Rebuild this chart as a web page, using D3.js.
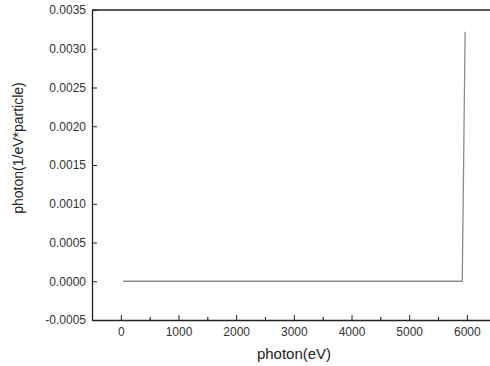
<!DOCTYPE html>
<html>
<head>
<meta charset="utf-8">
<script src="https://cdn.jsdelivr.net/npm/d3@7"></script>
<style>
    body { margin: 0; background: #fff; }
    svg { display: block; font-family: "Liberation Sans", Arial, sans-serif; }
</style>
</head>
<body>
<div id="chart"></div>
<script>
// spectrum points
let energy = [40, 5920, 5970];
let photon = [0, 0, 0.00322];
let xTicks = [0, 1000, 2000, 3000, 4000, 5000, 6000];
let xMinor = [500, 1500, 2500, 3500, 4500, 5500];
let yTicks = [-0.0005, 0, 0.0005, 0.001, 0.0015, 0.002, 0.0025, 0.003, 0.0035];

(function() {
    let w = 490, h = 366;
    let svg = d3.select('#chart')
        .append('svg')
        .attr('width', w)
        .attr('height', h);

    let x = d3.scaleLinear().domain([-500, 6500]).range([92, 495.7]);
    let y = d3.scaleLinear().domain([-0.0005, 0.0035]).range([320, 10]);

    let pts = energy.map((e, i) => [e, photon[i]]);
    let line = d3.line()
        .x(d => x(d[0]))
        .y(d => y(d[1]));

    svg.append('path')
        .datum(pts)
        .attr('d', line)
        .attr('fill', 'none')
        .attr('stroke', '#8c8c8c')
        .attr('stroke-width', 1.3);

    // top frame
    svg.append('line')
        .attr('x1', 92).attr('x2', w)
        .attr('y1', 10).attr('y2', 10)
        .attr('stroke', '#222')
        .attr('stroke-width', 1.3);

    let xAxis = svg.append('g')
        .attr('transform', 'translate(0,320)')
        .call(d3.axisBottom(x).tickValues(xTicks).tickSizeInner(-5).tickSizeOuter(0).tickPadding(7)
            .tickFormat(d3.format('d')));
    svg.append('g')
        .attr('transform', 'translate(0,320)')
        .call(d3.axisBottom(x).tickValues(xMinor).tickSizeInner(-3).tickSizeOuter(0).tickFormat(''))
        .select('.domain').remove();

    let yAxis = svg.append('g')
        .attr('transform', 'translate(92,0)')
        .call(d3.axisLeft(y).tickValues(yTicks).tickSizeInner(-5).tickSizeOuter(0).tickPadding(6)
            .tickFormat(d3.format('.4f')));

    [xAxis, yAxis].forEach(a => {
        a.select('.domain').attr('stroke', '#222').attr('stroke-width', 1.3);
        a.selectAll('.tick line').attr('stroke', '#222');
        a.selectAll('text')
            .attr('fill', '#333')
            .style('font-size', '12px');
    });
    yAxis.selectAll('text').text(d => d < 0 ? '-' + d3.format('.4f')(-d) : d3.format('.4f')(d));

    svg.append('text')
        .attr('x', 294)
        .attr('y', 359)
        .attr('text-anchor', 'middle')
        .attr('fill', '#222')
        .style('font-size', '15px')
        .text('photon(eV)');

    svg.append('text')
        .attr('transform', 'translate(23,148) rotate(-90)')
        .attr('text-anchor', 'middle')
        .attr('fill', '#222')
        .style('font-size', '14px')
        .text('photon(1/eV*particle)');
})();
</script>
</body>
</html>
